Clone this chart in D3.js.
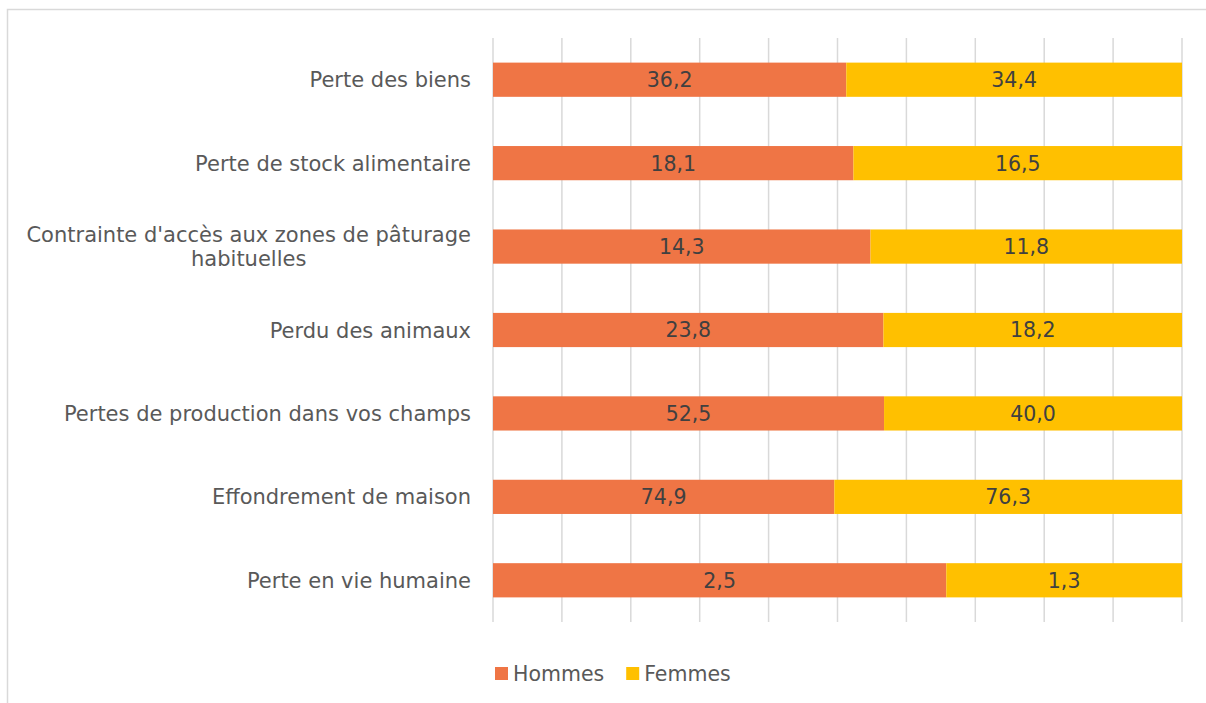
<!DOCTYPE html>
<html>
<head>
<meta charset="utf-8">
<script src="https://cdn.jsdelivr.net/npm/d3@7"></script>
<style>
  body { margin: 0; background: #fff; overflow: hidden; }
  svg { display: block; font-family: "DejaVu Sans", sans-serif; }
</style>
</head>
<body>
<div id="chartContainer"></div>
<script>
// Data
const categories = [
  "Perte des biens",
  "Perte de stock alimentaire",
  "Contrainte d'accès aux zones de pâturage habituelles",
  "Perdu des animaux",
  "Pertes de production dans vos champs",
  "Effondrement de maison",
  "Perte en vie humaine"
];
const hommes = [36.2, 18.1, 14.3, 23.8, 52.5, 74.9, 2.5];
const femmes = [34.4, 16.5, 11.8, 18.2, 40.0, 76.3, 1.3];
const seriesNames = ["Hommes", "Femmes"];
const colors = ["#EF7545", "#FFC000"];

const w = 1206, h = 703;
const margins = { top: 38, left: 493, right: 24, bottom: 81 };
const innerWidth = w - margins.left - margins.right;
const innerHeight = h - margins.top - margins.bottom;

const data = categories.map((c, i) => ({ cat: c, Hommes: hommes[i], Femmes: femmes[i] }));

const svg = d3.select("#chartContainer")
  .append("svg")
    .attr("width", w)
    .attr("height", h);

// chart border
svg.append("rect")
  .attr("x", 7.5).attr("y", 9.5)
  .attr("width", w).attr("height", h)
  .attr("fill", "none")
  .attr("stroke", "#d9d9d9")
  .attr("stroke-width", 1.5);

const mainG = svg.append("g")
  .attr("transform", `translate(${margins.left}, ${margins.top})`);

const xScale = d3.scaleLinear().domain([0, 1]).range([0, innerWidth]);
const yScale = d3.scaleBand()
  .domain(categories)
  .range([0, innerHeight])
  .paddingInner(0.59)
  .paddingOuter(0.295);

// gridlines
mainG.append("g")
  .selectAll("line")
  .data(xScale.ticks(10))
  .enter()
  .append("line")
    .attr("x1", d => xScale(d))
    .attr("x2", d => xScale(d))
    .attr("y1", 0)
    .attr("y2", innerHeight)
    .attr("stroke", "#d9d9d9")
    .attr("stroke-width", 1.5);

// stack (100%)
const stack = d3.stack()
  .keys(seriesNames)
  .offset(d3.stackOffsetExpand);
const stacked = stack(data);

const fmt = v => v.toFixed(1).replace(".", ",");

stacked.forEach((s, si) => {
  const g = mainG.append("g");
  g.selectAll("rect")
    .data(s)
    .enter()
    .append("rect")
      .attr("x", d => xScale(d[0]))
      .attr("y", d => yScale(d.data.cat))
      .attr("width", d => xScale(d[1]) - xScale(d[0]))
      .attr("height", yScale.bandwidth())
      .attr("fill", colors[si]);
  g.selectAll("text")
    .data(s)
    .enter()
    .append("text")
      .attr("x", d => (xScale(d[0]) + xScale(d[1])) / 2)
      .attr("y", d => yScale(d.data.cat) + yScale.bandwidth() / 2)
      .attr("dy", "0.36em")
      .attr("text-anchor", "middle")
      .attr("font-size", 20.5)
      .attr("fill", "#404040")
      .text(d => fmt(d.data[s.key]));
});

// category labels, the long one wrapped on two centred lines
const wrapped = {
  "Contrainte d'accès aux zones de pâturage habituelles":
    ["Contrainte d'accès aux zones de pâturage", "habituelles"]
};
const labelX = -22;
const lineH = 24.5;
categories.forEach(c => {
  const lines = wrapped[c] || [c];
  const cy = yScale(c) + yScale.bandwidth() / 2;
  const t = mainG.append("text")
    .attr("font-size", 21)
    .attr("fill", "#595959");
  if (lines.length === 1) {
    t.attr("text-anchor", "end")
      .attr("x", labelX)
      .attr("y", cy)
      .attr("dy", "0.36em")
      .text(lines[0]);
  } else {
    t.attr("text-anchor", "middle");
    const spans = lines.map((l, i) => t.append("tspan")
      .attr("y", cy + (i - (lines.length - 1) / 2) * lineH)
      .attr("dy", "0.36em")
      .text(l));
    const w0 = spans[0].node().getComputedTextLength();
    spans.forEach(sp => sp.attr("x", labelX - w0 / 2));
  }
});

// legend
const legend = svg.append("g").attr("transform", "translate(495, 674)");
let lx = 0;
seriesNames.forEach((name, i) => {
  const item = legend.append("g").attr("transform", `translate(${lx},0)`);
  item.append("rect")
    .attr("x", 0).attr("y", -7)
    .attr("width", 13).attr("height", 13)
    .attr("fill", colors[i]);
  const txt = item.append("text")
    .attr("x", 18)
    .attr("y", 0)
    .attr("dy", "0.36em")
    .attr("font-size", 20.5)
    .attr("fill", "#595959")
    .text(name);
  lx += 18 + txt.node().getComputedTextLength() + 22;
});
</script>
</body>
</html>
